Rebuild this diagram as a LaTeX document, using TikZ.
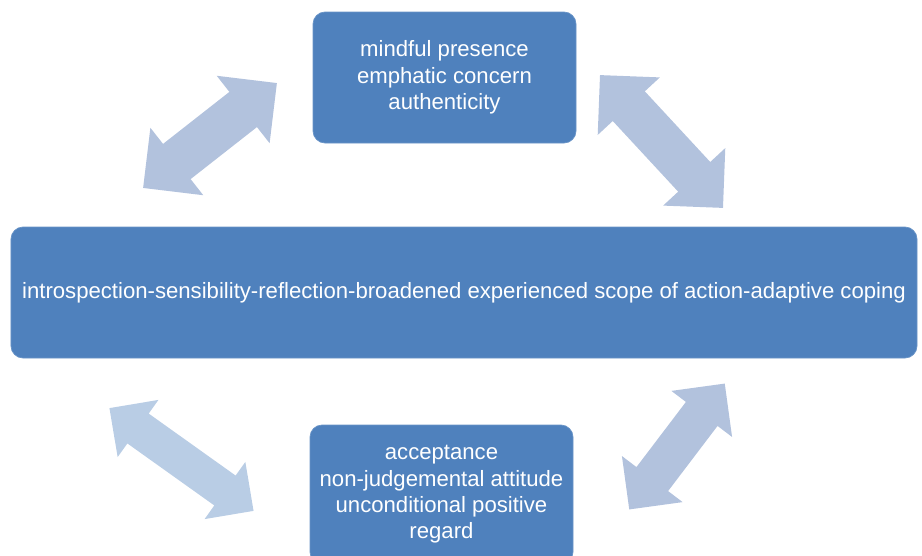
\documentclass[tikz,border=0pt]{standalone}
\usepackage{fontspec}
\setmainfont{Liberation Sans}
\usetikzlibrary{shapes.arrows}

\definecolor{boxblue}{HTML}{4F81BD}
\definecolor{arrblue}{HTML}{B2C2DD}
\definecolor{arrlight}{HTML}{B9CDE5}

\begin{document}
\begin{tikzpicture}[
				box/.style={rectangle,rounded corners=0.24cm,fill=boxblue,draw=boxblue!85!white,text=white,align=center,
					minimum height=2.62cm,inner sep=2pt,font=\fontsize{12.6}{15}\selectfont},
				dbl/.style={double arrow,fill=arrblue,draw=none,inner xsep=0pt,inner ysep=0.44cm,minimum height=3.4cm,
					double arrow head extend=0.41cm}
				]
				\useasboundingbox (0,0) rectangle (18.44,11.1);
				
				\node[box,minimum width=5.26cm] (top) at (8.89,9.55) {mindful presence\\emphatic concern\\authenticity};
				\node[box,minimum width=18.12cm] (mid) at (9.28,5.25) {introspection-sensibility-reflection-broadened experienced scope of action-adaptive coping};
				\node[box,minimum width=5.26cm,minimum height=2.78cm] (bot) at (8.83,1.21) {acceptance\\non-judgemental attitude\\unconditional positive\\regard};
				
				\node[dbl,rotate=38.1] (tl) at (4.20,8.39) {};
				\node[dbl,rotate=-47.2,minimum height=3.62cm,inner ysep=0.43cm] (tr) at (13.23,8.27) {};
				\node[dbl,rotate=-35.5,fill=arrlight,minimum height=3.54cm,inner ysep=0.36cm,double arrow head extend=0.335cm] (bl) at (3.63,1.91) {};
				\node[dbl,rotate=52.8,minimum height=3.16cm,inner ysep=0.39cm,double arrow head extend=0.365cm] (br) at (13.54,2.17) {};
			\end{tikzpicture}
\end{document}
